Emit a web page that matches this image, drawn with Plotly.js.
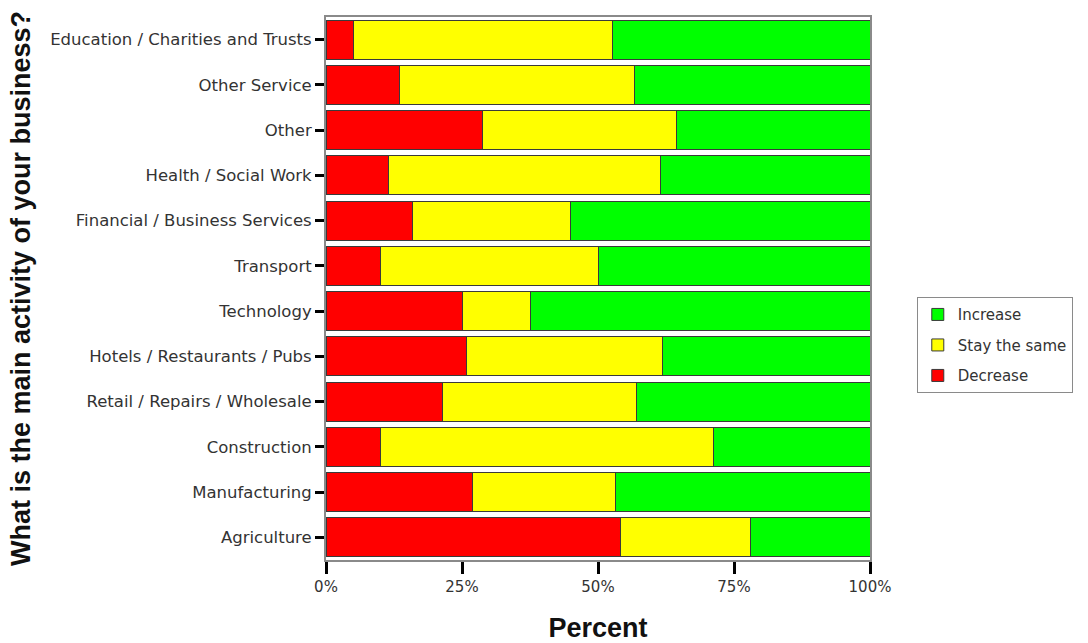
<!DOCTYPE html>
<html>
<head>
<meta charset="utf-8">
<script src="https://cdn.plot.ly/plotly-3.0.1.min.js"></script>
<style>
  html, body { margin: 0; padding: 0; background: #ffffff; }
  #chart { width: 1088px; height: 643px; }
</style>
</head>
<body>
<div id="chart"></div>
<script>
// Business activities, listed bottom to top as they appear on the axis
const activities = [
  "Agriculture",
  "Manufacturing",
  "Construction",
  "Retail / Repairs / Wholesale",
  "Hotels / Restaurants / Pubs",
  "Technology",
  "Transport",
  "Financial / Business Services",
  "Health / Social Work",
  "Other",
  "Other Service",
  "Education / Charities and Trusts"
];

// Share of respondents (%) for each expectation
const decrease     = [54.2, 26.9, 10.0, 21.4, 25.8, 25.0, 10.0, 15.9, 11.5, 28.8, 13.5, 5.1];
const stayTheSame  = [23.9, 26.3, 61.3, 35.6, 36.0, 12.5, 40.1, 29.0, 50.0, 35.7, 43.2, 47.5];
const increase     = [21.9, 46.8, 28.7, 43.0, 38.2, 62.5, 49.9, 55.1, 38.5, 35.5, 43.3, 47.4];

const xTicks = [0, 25, 50, 75, 100];
const xTickText = ["0%", "25%", "50%", "75%", "100%"];

const outline = { color: "#3a3a3a", width: 1 };

function series(name, values, colour, rank) {
  return {
    type: "bar",
    orientation: "h",
    name: name,
    legendgroup: name,
    legendrank: rank,
    x: values,
    y: activities,
    marker: { color: colour, line: outline },
    hoverinfo: "name+x"
  };
}

const traces = [
  series("Decrease", decrease, "#ff0000", 3),
  series("Stay the same", stayTheSame, "#ffff00", 2),
  series("Increase", increase, "#00ff00", 1)
];

const titleFont = { family: "Liberation Sans", size: 27, color: "#111111", weight: "bold" };

const layout = {
  width: 1088,
  height: 643,
  barmode: "stack",
  bargap: 0.14,
  paper_bgcolor: "#ffffff",
  plot_bgcolor: "#ffffff",
  margin: { l: 326, r: 218, t: 17, b: 83, pad: 0 },
  xaxis: {
    range: [0, 100],
    tickvals: xTicks,
    ticktext: xTickText,
    ticks: "outside",
    ticklen: 12,
    tickwidth: 3,
    tickcolor: "#000000",
    showgrid: false,
    zeroline: false,
    showline: true,
    mirror: true,
    linecolor: "#8a8a8a",
    linewidth: 2,
    tickfont: { family: "DejaVu Sans", size: 15, color: "#333333" },
    title: { text: "Percent", font: titleFont, standoff: 34 },
    fixedrange: true
  },
  yaxis: {
    type: "category",
    categoryorder: "array",
    categoryarray: activities,
    ticks: "outside",
    ticklen: 9,
    tickwidth: 3,
    tickcolor: "#000000",
    showgrid: false,
    zeroline: false,
    showline: true,
    mirror: true,
    linecolor: "#8a8a8a",
    linewidth: 2,
    tickfont: { family: "DejaVu Sans", size: 16.5, color: "#333333" },
    title: {
      text: "What is the main activity of your business?",
      font: titleFont,
      standoff: 12
    },
    fixedrange: true
  },
  legend: {
    x: 1.086,
    xanchor: "left",
    y: 0.484,
    yanchor: "top",
    traceorder: "grouped",
    bgcolor: "#ffffff",
    bordercolor: "#8a8a8a",
    borderwidth: 1,
    font: { family: "DejaVu Sans", size: 15, color: "#333333" },
    tracegroupgap: 8,
    itemwidth: 30
  },
  showlegend: true
};

Plotly.newPlot("chart", traces, layout, { displayModeBar: false, staticPlot: true });
</script>
</body>
</html>
